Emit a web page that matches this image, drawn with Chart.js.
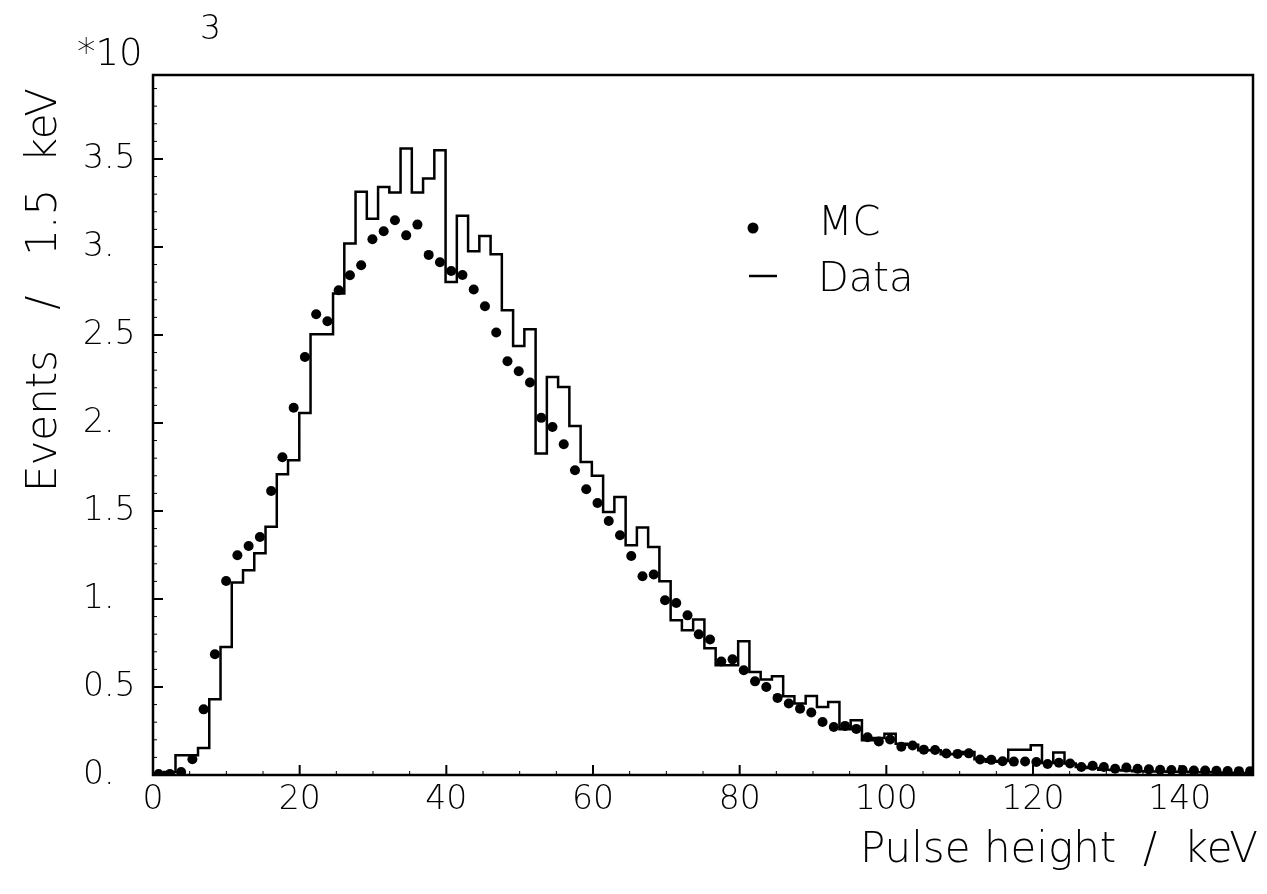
<!DOCTYPE html>
<html>
<head>
<meta charset="utf-8">
<script src="https://cdn.jsdelivr.net/npm/chart.js@4.4.1/dist/chart.umd.min.js"></script>
<style>
  body { margin: 0; background: #fff; }
  canvas { display: block; }
</style>
</head>
<body>
<canvas id="pulse-chart" width="1267" height="894"></canvas>
<script>
// Pulse height spectrum, events per bin in units of 10^3

var binWidth = 1.5345; // keV per bin as drawn on the axis

// measured data, one value per bin starting at 0 keV
var dataCounts = [
  0.000, 0.017, 0.112, 0.112, 0.153, 0.430, 0.727, 1.093, 1.163, 1.260,
  1.410, 1.708, 1.788, 2.057, 2.504, 2.504, 2.735, 3.019, 3.313, 3.161,
  3.341, 3.309, 3.559, 3.309, 3.389, 3.549, 2.801, 3.177, 2.976, 3.063,
  2.959, 2.640, 2.438, 2.532, 1.826, 2.261, 2.205, 1.983, 1.778, 1.700,
  1.494, 1.580, 1.305, 1.406, 1.295, 1.101, 0.879, 0.822, 0.883, 0.720,
  0.623, 0.623, 0.760, 0.585, 0.542, 0.561, 0.447, 0.406, 0.449, 0.386,
  0.415, 0.260, 0.311, 0.197, 0.210, 0.235, 0.178, 0.172, 0.140, 0.140,
  0.118, 0.120, 0.131, 0.090, 0.075, 0.080, 0.144, 0.144, 0.169, 0.068,
  0.128, 0.065, 0.045, 0.040, 0.030, 0.028, 0.025, 0.022, 0.020, 0.020,
  0.018, 0.018, 0.015, 0.015, 0.014, 0.013, 0.012, 0.012
];

// Monte Carlo, same bins
var mcCounts = [
  0.005, 0.005, 0.017, 0.089, 0.373, 0.686, 1.102, 1.248, 1.301, 1.352,
  1.614, 1.805, 2.087, 2.375, 2.618, 2.578, 2.754, 2.839, 2.896, 3.044,
  3.089, 3.152, 3.066, 3.127, 2.955, 2.913, 2.863, 2.841, 2.758, 2.663,
  2.514, 2.351, 2.294, 2.230, 2.029, 1.977, 1.879, 1.731, 1.623, 1.545,
  1.443, 1.362, 1.244, 1.129, 1.139, 0.993, 0.977, 0.907, 0.799, 0.770,
  0.645, 0.657, 0.595, 0.532, 0.500, 0.438, 0.406, 0.377, 0.355, 0.301,
  0.273, 0.279, 0.262, 0.214, 0.190, 0.202, 0.161, 0.168, 0.144, 0.142,
  0.122, 0.120, 0.123, 0.088, 0.086, 0.078, 0.076, 0.077, 0.074, 0.063,
  0.070, 0.065, 0.045, 0.052, 0.045, 0.036, 0.042, 0.036, 0.032, 0.030,
  0.028, 0.028, 0.026, 0.025, 0.024, 0.023, 0.022, 0.022
];

var xTicks = [0, 20, 40, 60, 80, 100, 120, 140];
var yTicks = [0, 0.5, 1, 1.5, 2, 2.5, 3, 3.5];
var yTickLabels = ['0.', '0.5', '1.', '1.5', '2.', '2.5', '3.', '3.5'];

var xTitle = 'Pulse height  /  keV';
var yTitle = 'Events   /   1.5  keV';

// histogram: one point on the left edge of every bin, plus the closing edge
var dataPoints = [];
dataCounts.forEach(function(v, i) {
  dataPoints.push({ x: i * binWidth, y: v });
});
dataPoints.push({ x: dataCounts.length * binWidth, y: dataCounts[dataCounts.length - 1] });

// MC dots sit in the bin centres
var mcPoints = [];
mcCounts.forEach(function(v, i) {
  mcPoints.push({ x: (i + 0.5) * binWidth, y: v });
});

var fontName = '"DejaVu Sans"';
Chart.defaults.font.family = 'DejaVu Sans';
Chart.defaults.font.weight = 300;
Chart.defaults.color = '#000';

// frame, inward ticks, legend and titles in the old HIGZ style
var framePlugin = {
  id: 'frame',
  beforeDraw: function(chart) {
    var c = chart.ctx;
    c.save();
    c.fillStyle = '#fff';
    c.fillRect(0, 0, chart.width, chart.height);
    c.restore();
  },
  afterDraw: function(chart) {
    var c = chart.ctx;
    var a = chart.chartArea;
    var xs = chart.scales.x;
    var ys = chart.scales.y;
    c.save();
    c.strokeStyle = '#000';
    c.lineWidth = 2.5;
    c.strokeRect(a.left, a.top, a.right - a.left, a.bottom - a.top);

    c.lineWidth = 2;
    c.beginPath();
    xTicks.forEach(function(t) {
      var px = xs.getPixelForValue(t);
      c.moveTo(px, a.bottom);
      c.lineTo(px, a.bottom - 10);
    });
    yTicks.forEach(function(t) {
      var py = ys.getPixelForValue(t);
      c.moveTo(a.left, py);
      c.lineTo(a.left + 10, py);
    });
    c.stroke();

    // small minor ticks
    c.lineWidth = 1;
    c.beginPath();
    for (var mx = 5; mx < 150; mx += 5) {
      if (mx % 20 === 0) continue;
      var px = xs.getPixelForValue(mx);
      c.moveTo(px, a.bottom);
      c.lineTo(px, a.bottom - 4);
    }
    for (var my = 1; my < 40; my++) {
      if (my % 5 === 0) continue;
      var py = ys.getPixelForValue(my / 10);
      c.moveTo(a.left, py);
      c.lineTo(a.left + 4, py);
    }
    c.stroke();

    // legend
    var mcSet = chart.data.datasets[0];
    var dataSet = chart.data.datasets[1];
    c.fillStyle = '#000';
    c.beginPath();
    c.arc(753, 228, 5.5, 0, Math.PI * 2);
    c.fill();
    c.lineWidth = 2.5;
    c.beginPath();
    c.moveTo(749, 276);
    c.lineTo(777, 276);
    c.stroke();
    c.font = '300 40px ' + fontName;
    c.textAlign = 'left';
    c.textBaseline = 'alphabetic';
    c.fillText(mcSet.label, 818, 235);
    c.fillText(dataSet.label, 818, 291);

    // axis titles
    c.font = '300 42px ' + fontName;
    c.textAlign = 'right';
    c.fillText(xTitle, 1258, 862);

    c.save();
    c.translate(56, 88);
    c.rotate(-Math.PI / 2);
    c.textAlign = 'right';
    c.fillText(yTitle, 0, 0);
    c.restore();

    // exponent of the y axis
    c.textAlign = 'left';
    c.font = '300 37px ' + fontName;
    c.fillText('*10', 77, 65);
    c.font = '300 33px ' + fontName;
    c.fillText('3', 200, 39);
    c.restore();
  }
};

var ctx = document.getElementById('pulse-chart').getContext('2d');
var pulseChart = new Chart(ctx, {
  type: 'scatter',
  data: {
    datasets: [
      {
        label: 'MC',
        data: mcPoints,
        pointRadius: 5,
        pointHoverRadius: 5,
        pointBackgroundColor: '#000',
        pointBorderWidth: 0,
        showLine: false
      },
      {
        label: 'Data',
        type: 'line',
        data: dataPoints,
        stepped: true,
        borderColor: '#000',
        borderWidth: 2.5,
        pointRadius: 0,
        fill: false
      }
    ]
  },
  options: {
    responsive: false,
    animation: false,
    layout: { padding: { left: 83, top: 75, right: 14, bottom: 0 } },
    plugins: {
      legend: { display: false },
      tooltip: { enabled: false }
    },
    scales: {
      x: {
        type: 'linear',
        min: 0,
        max: 150,
        grid: { display: false, drawTicks: false },
        border: { display: false },
        afterBuildTicks: function(scale) {
          scale.ticks = xTicks.map(function(v) { return { value: v }; });
        },
        afterFit: function(scale) { scale.height = 119; },
        ticks: {
          padding: 6,
          maxRotation: 0,
          font: { size: 33, weight: 300 },
          callback: function(value) { return String(value); }
        }
      },
      y: {
        type: 'linear',
        min: 0,
        max: 3.977,
        grid: { display: false, drawTicks: false },
        border: { display: false },
        afterBuildTicks: function(scale) {
          scale.ticks = yTicks.map(function(v) { return { value: v }; });
        },
        afterFit: function(scale) { scale.width = 70; },
        ticks: {
          crossAlign: 'far',
          padding: 0,
          font: { size: 33, weight: 300 },
          callback: function(value) {
            var i = yTicks.indexOf(value);
            return i >= 0 ? yTickLabels[i] : '';
          }
        }
      }
    }
  },
  plugins: [framePlugin]
});
</script>
</body>
</html>
